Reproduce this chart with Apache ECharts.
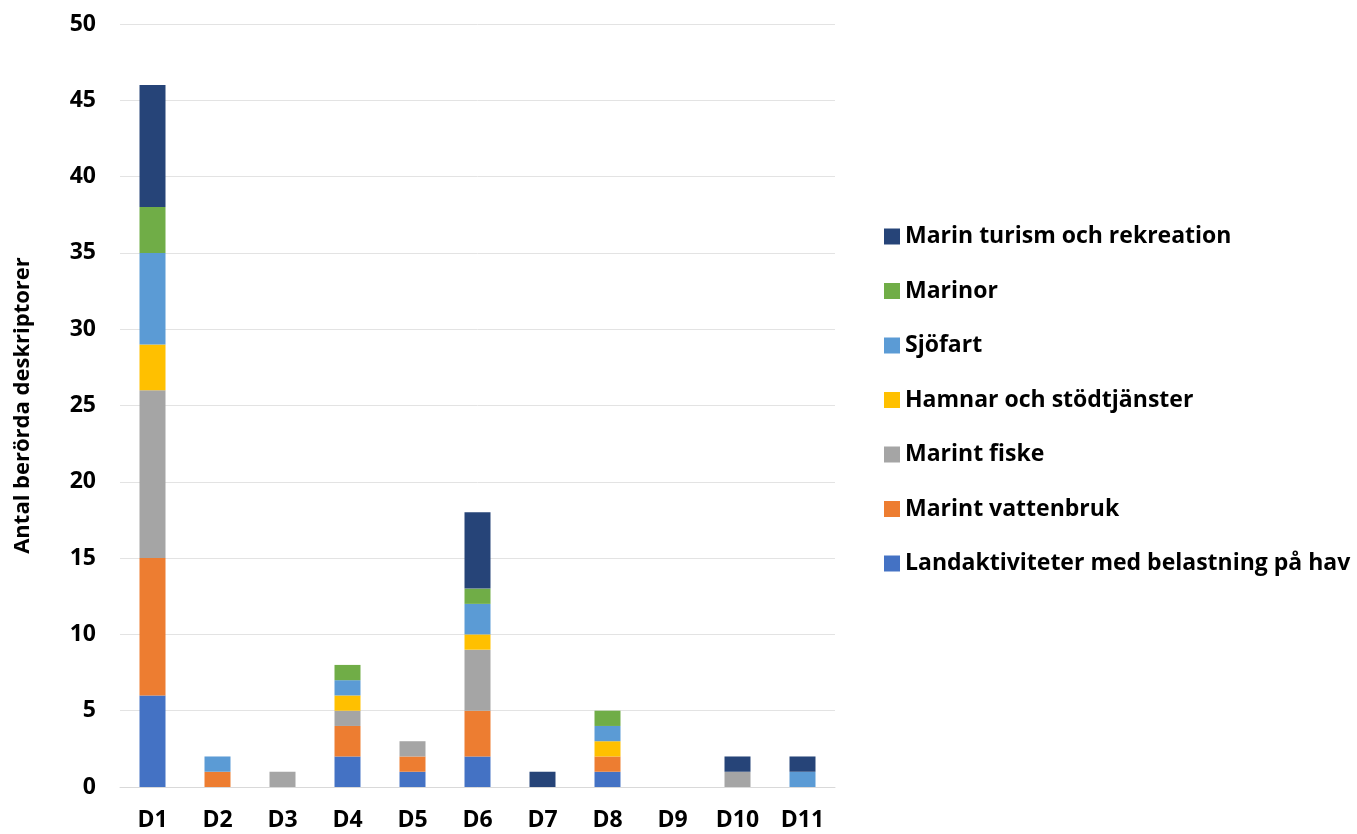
<!DOCTYPE html>
<html>
<head>
<meta charset="utf-8">
<script src="https://cdn.jsdelivr.net/npm/echarts@6/dist/echarts.min.js"></script>
<style>
  html, body { margin: 0; padding: 0; background: #fff; }
  #main { width: 1357px; height: 834px; }
</style>
</head>
<body>
<div id="main"></div>
<script>
// kategorier (deskriptorer)
var categories = ['D1', 'D2', 'D3', 'D4', 'D5', 'D6', 'D7', 'D8', 'D9', 'D10', 'D11'];

// värden per sektor, nerifrån och upp i staplarna
var landaktiviteter = [6, 0, 0, 2, 1, 2, 0, 1, 0, 0, 0];
var vattenbruk      = [9, 1, 0, 2, 1, 3, 0, 1, 0, 0, 0];
var fiske           = [11, 0, 1, 1, 1, 4, 0, 0, 0, 1, 0];
var hamnar          = [3, 0, 0, 1, 0, 1, 0, 1, 0, 0, 0];
var sjofart         = [6, 1, 0, 1, 0, 2, 0, 1, 0, 0, 1];
var marinor         = [3, 0, 0, 1, 0, 1, 0, 1, 0, 0, 0];
var turism          = [8, 0, 0, 0, 0, 5, 1, 0, 0, 1, 1];

var names = [
  'Landaktiviteter med belastning på hav',
  'Marint vattenbruk',
  'Marint fiske',
  'Hamnar och stödtjänster',
  'Sjöfart',
  'Marinor',
  'Marin turism och rekreation'
];
var colors = ['#4472C4', '#ED7D31', '#A5A5A5', '#FFC000', '#5B9BD5', '#70AD47', '#264478'];
var values = [landaktiviteter, vattenbruk, fiske, hamnar, sjofart, marinor, turism];

var font = '"Open Sans", sans-serif';

var series = [];
for (var i = 0; i < names.length; i++) {
  series.push({
    name: names[i],
    type: 'bar',
    stack: 'total',
    barWidth: 26,
    itemStyle: { color: colors[i] },
    data: values[i]
  });
}

var myChart = echarts.init(document.getElementById('main'));

var option = {
  animation: false,
  color: colors,
  grid: { left: 120, right: 522, top: 24, bottom: 47 },
  legend: {
    orient: 'vertical',
    left: 879,
    top: 220,
    itemWidth: 16,
    itemHeight: 16,
    itemGap: 31.5,
    icon: 'rect',
    data: names.slice().reverse(),
    textStyle: { fontFamily: font, fontWeight: 'bold', fontSize: 23, color: '#000', lineHeight: 23 }
  },
  xAxis: {
    type: 'category',
    data: categories,
    axisLine: { lineStyle: { color: '#d9d9d9' } },
    axisTick: { show: false },
    axisLabel: { fontFamily: font, fontWeight: 'bold', fontSize: 23, color: '#000', margin: 22 }
  },
  yAxis: {
    type: 'value',
    min: 0,
    max: 50,
    interval: 5,
    name: 'Antal berörda deskriptorer',
    nameLocation: 'middle',
    nameGap: 86,
    nameTextStyle: { fontFamily: font, fontWeight: 'bold', fontSize: 22, color: '#000' },
    axisLine: { show: false },
    axisTick: { show: false },
    splitLine: { lineStyle: { color: '#e3e3e3' } },
    axisLabel: { fontFamily: font, fontWeight: 'bold', fontSize: 23, color: '#000', margin: 24 }
  },
  series: series
};

myChart.setOption(option);
</script>
</body>
</html>
